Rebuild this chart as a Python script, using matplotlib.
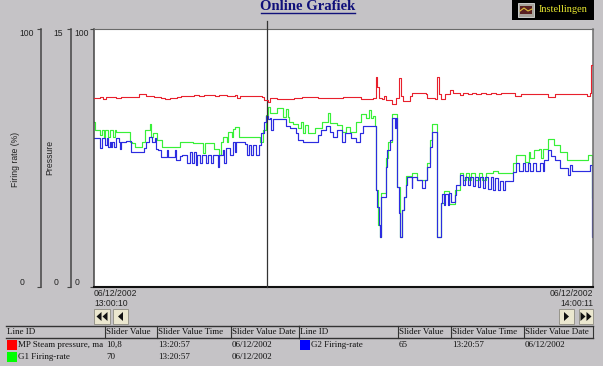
#!/usr/bin/python
# coding=utf-8
import matplotlib
matplotlib.use('Agg')
import matplotlib.pyplot as plt
from matplotlib.patches import Rectangle, Polygon

# tiempo en minutos desde 13:00:10
g2_t = [0, 0.7, 1.0, 1.3, 1.6, 1.7, 1.9, 2.0, 2.2, 2.4, 2.6, 3.0, 3.1, 3.2, 3.8, 4.4, 6.0, 6.3, 6.6, 7.0, 7.3, 7.5, 7.7, 7.9, 8.1, 8.8, 8.9, 9.7, 9.9,
        10.3, 10.6, 11.2, 11.5, 11.8, 12.0, 12.3, 12.4, 12.7, 13.0, 13.5, 13.7, 14.1, 14.3, 14.9, 15.0, 15.5, 15.6, 15.9, 16.3, 16.7, 16.9, 17.1, 18.2, 18.4, 18.6, 18.9, 19.1, 19.5, 19.8,
        20.1, 20.4, 20.7, 20.9, 21.2, 21.3, 21.5, 23.1, 23.6, 24.3, 24.5, 25.1, 26.9, 27.3, 27.9, 28.4, 28.7, 29.2, 29.8, 30.2, 30.9, 31.5, 32.0, 32.3,
        33.9, 34.0, 34.3, 34.4, 34.5, 35.1, 35.3, 35.6, 35.8, 35.9, 36.2, 36.3, 36.5, 36.7, 36.8, 37.0, 37.3, 37.5, 37.7, 38.2, 38.3, 38.8, 39.4, 39.8,
        40.0, 40.4, 40.7, 41.2, 41.3, 41.7, 41.8, 42.1, 42.2, 42.6, 42.7, 43.0, 43.4, 43.6, 44.0, 44.4, 44.6, 45.0, 45.2, 45.6, 45.8, 46.2, 46.4, 46.8, 47.0, 47.4, 47.7, 48.0, 48.2, 48.6, 48.8, 49.2, 49.4,
        50.4, 50.8, 51.1, 51.6, 51.8, 52.2, 52.5, 52.8, 53.2, 53.6, 54.0, 54.1, 54.6, 55.0, 55.5, 56.0, 57.0, 57.3, 57.5, 59.6, 59.9, 60.02]
g2_v = [57.8, 53.9, 57.8, 55.0, 57.8, 54.3, 56.2, 54.3, 56.2, 54.3, 57.8, 56.2, 53.5, 56.2, 56.6, 52.3, 53.9, 56.2, 58.1, 56.2, 57.8, 53.5, 53.1, 53.1, 50.4, 53.1, 50.4, 53.1, 49.2,
        50.8, 51.2, 48.1, 52.3, 48.1, 52.3, 47.3, 51.2, 48.1, 51.2, 48.1, 51.2, 48.1, 51.2, 46.5, 51.2, 53.1, 48.1, 53.9, 51.2, 56.2, 52.3, 56.2, 55.4, 51.2, 55.0, 51.2, 55.0, 51.2, 55.0,
        59.7, 64.0, 66.3, 65.1, 65.5, 60.9, 65.1, 62.4, 61.6, 59.7, 57.0, 56.2, 58.9, 60.9, 62.4, 60.1, 58.1, 60.9, 56.2, 59.7, 57.8, 56.2, 59.7, 62.4,
        37.6, 31.0, 24.0, 19.4, 34.9, 46.5, 53.1, 57.0, 62.8, 65.5, 61.6, 65.5, 38.8, 28.7, 19.4, 29.8, 34.9, 39.5, 42.6, 38.4, 42.6, 41.5, 38.4, 41.5,
        46.5, 54.3, 60.1, 33.7, 19.4, 32.6, 36.0, 31.8, 36.0, 31.8, 36.4, 32.9, 35.7, 39.5, 43.4, 39.5, 42.6, 39.5, 42.6, 39.1, 42.6, 38.8, 42.6, 38.4, 42.6, 38.0, 42.6, 37.6, 42.2, 37.6, 41.1, 37.6, 41.1,
        44.6, 48.1, 45.0, 48.1, 45.0, 48.1, 45.0, 48.1, 45.0, 48.1, 45.0, 49.2, 53.1, 50.8, 49.2, 46.1, 43.4, 47.3, 45.0, 47.3, 19.4, 19.4]

g1_t = [0, 0.1, 0.7, 1.0, 1.2, 1.3, 1.7, 1.9, 2.3, 2.5, 2.6, 4.3, 4.6, 4.9, 5.8, 6.1, 6.7, 6.9, 7.1, 7.6, 8.2,
        10.3, 11.9, 13.1, 13.3, 14.4, 15.0, 15.3, 15.5, 16.0, 16.1, 16.6, 16.7, 16.9, 17.4,
        20.0, 20.3, 20.7, 20.9, 21.2, 22.0, 22.7, 23.1, 23.3, 23.4, 23.9, 24.5, 24.9, 25.1, 25.4, 25.7, 26.6, 27.4, 28.1, 28.4, 29.2, 29.8,
        30.3, 30.8, 31.5, 32.1, 32.7, 33.1, 33.3, 33.6, 33.8, 33.9, 34.1, 34.4, 34.5, 35.1, 35.4, 35.8, 35.9, 36.4, 36.5, 36.8, 37.0, 37.3, 37.5, 38.3, 38.8,
        40.0, 40.4, 40.7, 41.2, 41.3, 41.7, 42.1, 42.7, 43.4, 44.0, 44.4, 44.7, 45.1, 45.4, 45.8, 46.3, 46.7, 47.2, 48.0, 48.6,
        50.4, 50.8, 51.8, 52.3, 52.4, 52.9, 53.5, 53.8, 54.0, 54.6, 55.3, 56.0, 56.9, 59.4, 59.9, 60.02]
g1_v = [64.0, 60.9, 58.9, 60.9, 58.1, 60.9, 58.1, 60.9, 58.1, 60.9, 60.1, 56.2, 55.8, 54.3, 56.2, 60.9, 63.2, 58.1, 59.7, 57.0, 54.3,
        56.2, 55.8, 51.9, 55.8, 53.5, 51.2, 56.2, 58.1, 56.2, 60.1, 58.1, 61.2, 62.0, 58.1,
        56.2, 60.9, 66.7, 69.8, 67.4, 69.4, 65.9, 69.0, 65.9, 64.0, 63.2, 61.6, 64.0, 59.7, 62.8, 59.7, 61.6, 64.0, 67.4, 63.6, 62.8, 60.1,
        62.0, 60.1, 64.0, 67.1, 65.5, 68.6, 65.5, 66.3, 62.4, 37.6, 24.0, 19.4, 36.4, 50.0, 56.2, 60.9, 67.1, 65.9, 38.8, 19.4, 29.8, 34.9, 43.0, 44.2, 41.5,
        48.1, 57.0, 63.2, 33.7, 19.4, 32.6, 37.2, 32.2, 37.6, 44.2, 41.5, 44.2, 41.5, 44.2, 41.5, 44.2, 41.5, 44.2, 45.0, 44.2,
        48.1, 51.2, 48.4, 52.3, 50.0, 53.1, 53.5, 50.0, 53.5, 57.4, 55.0, 52.3, 49.2, 51.2, 34.5, 34.5]

mp_t = [0, 0.7, 1.1, 1.5, 2.6, 3.2, 4.2, 5.4, 6.2, 7.2, 8.0, 8.5, 9.2, 10.0, 10.5, 12.0, 12.6, 13.2, 14.5, 15.0, 16.0, 17.0, 17.2, 17.6, 20.0, 20.2, 20.5, 20.9, 21.2, 22.0, 24.0, 25.0,
        27.0, 30.0, 31.5, 32.1, 33.0, 33.5, 33.9, 34.0, 34.3, 34.6, 34.9, 35.1, 35.9, 36.3, 36.7, 36.9, 37.2, 38.0, 38.3, 39.9, 40.1, 41.0, 41.2, 41.5, 41.7, 42.2, 42.8, 43.2, 44.0,
        44.4, 45.0, 45.5, 46.0, 46.6, 47.2, 47.8, 48.4, 49.0, 50.0, 50.6, 51.3, 53.1, 54.6, 55.5, 59.1, 59.3, 59.6, 59.8, 60.02]
mp_v = [11.0, 11.05, 10.95, 11.05, 11.0, 11.05, 11.05, 11.2, 11.1, 11.05, 11.0, 10.95, 11.0, 11.05, 11.1, 11.15, 11.1, 11.15, 11.1, 11.15, 11.1, 11.15, 11.0, 11.1, 11.1, 11.05, 10.9, 10.76, 11.0, 10.95, 10.98, 11.05,
        11.0, 11.05, 11.05, 10.95, 10.95, 11.0, 12.2, 11.6, 11.0, 10.95, 11.1, 10.9, 10.64, 11.0, 12.15, 11.1, 10.8, 11.1, 11.3, 11.25, 11.0, 10.95, 12.2, 11.2, 10.95, 11.2, 11.45, 11.3, 11.15,
        11.3, 11.2, 11.3, 11.2, 11.3, 11.2, 11.3, 11.2, 11.3, 11.3, 11.1, 11.2, 11.25, 11.05, 11.2, 11.25, 11.1, 11.3, 12.9, 12.6]

slider_t = 20.78
t_end = 60.02
x_ticks = [0, t_end]
x_labels = ['06/12/2002\n13:00:10', '06/12/2002\n14:00:11']
col_heads = ['Line ID', 'Slider Value', 'Slider Value Time', 'Slider Value Date']
rows_left = [['MP Steam pressure, ma', '10,8', '13:20:57', '06/12/2002'],
             ['G1 Firing-rate', '70', '13:20:57', '06/12/2002']]
rows_right = [['G2 Firing-rate', '65', '13:20:57', '06/12/2002']]

BG = '#c5c3c6'
SERIF = 'Liberation Serif'
SANS = 'Liberation Sans'
plt.rcParams['font.family'] = SANS

fig = plt.figure(figsize=(6.03, 3.66), dpi=100, facecolor=BG)

# capa de fondo en pixeles para la ventana
bg = fig.add_axes([0, 0, 1, 1], zorder=0)
bg.set_xlim(0, 603)
bg.set_ylim(366, 0)
bg.axis('off')

ax = fig.add_axes([94 / 603, 79 / 366, 499 / 603, 258 / 366], zorder=2)
ax.set_xlim(0, t_end)
ax.set_ylim(0, 100)
ax.step(g1_t, g1_v, where='post', c='#38f038', lw=0.85)
ax.step(g2_t, g2_v, where='post', c='#2c2ce0', lw=0.85)

ax_p = ax.twinx()
ax_p.set_ylim(0, 15)
ax_p.step(mp_t, mp_v, where='post', c='#e8202c', lw=0.8)

ax_f = ax.twinx()
ax_f.set_ylim(0, 100)

# cursor del slider, sobresale arriba del grafico
ax.plot([slider_t, slider_t], [0, 103.2], c='#333333', lw=0.9, clip_on=False, zorder=5)


def left_axis(a, ticks, offset, pad):
    for s in a.spines.values():
        s.set_visible(False)
    a.yaxis.set_ticks_position('left')
    a.yaxis.set_label_position('left')
    a.spines['left'].set_visible(True)
    a.spines['left'].set_position(('outward', offset))
    a.spines['left'].set_color('#444444')
    a.spines['left'].set_linewidth(1.1)
    a.set_yticks(ticks)
    a.tick_params(axis='y', length=3, width=0.8, color='#444444', pad=pad, labelsize=6.2, labelcolor='#222222')
    labels = a.get_yticklabels()
    labels[0].set_va('bottom')
    labels[1].set_va('top')
    for l in labels:
        l.set_ha('left')


left_axis(ax_p, [0, 15], 16.5, 9.7)
left_axis(ax_f, [0, 100], 38, 12.6)

ax.set_yticks([0, 100])
labels = ax.get_yticklabels()
ax.tick_params(axis='y', length=3, width=0.8, color='#444444', pad=10.8, labelsize=6.2, labelcolor='#222222')
labels[0].set_va('bottom')
labels[1].set_va('top')
for l in labels:
    l.set_ha('left')

ax.set_xticks(x_ticks)
ax.set_xticklabels(x_labels, fontsize=6.2, color='#222222', linespacing=1.15)
ax.tick_params(axis='x', length=0, pad=1.5)
xl = ax.get_xticklabels()
xl[0].set_ha('left')
xl[1].set_ha('right')

ax.spines['left'].set_color('#444444')
ax.spines['left'].set_linewidth(1.1)
ax.spines['top'].set_color('#6a6a6a')
ax.spines['right'].set_color('#6a6a6a')
ax.spines['right'].set_linewidth(1.1)
ax.spines['bottom'].set_color('#111111')
ax.spines['bottom'].set_linewidth(1.5)
ax_p.patch.set_visible(False)
ax_f.patch.set_visible(False)

bg.text(15, 159, 'Firing rate (%)', rotation=90, fontsize=6.2, ha='center', va='center', color='#222222')
bg.text(50, 157, 'Pressure', rotation=90, fontsize=6.2, ha='center', va='center', color='#222222')

# titulo
bg.text(308, 6.5, 'Online Grafiek', family=SERIF, fontweight='bold', fontsize=10.6, color='#10107a', ha='center', va='center')
bg.plot([261, 355], [13, 13], c='#10107a', lw=1)

# boton Instellingen
bg.add_patch(Rectangle((512, 0), 82, 20, fc='black', ec='none'))
bg.add_patch(Rectangle((518, 3), 16, 14, fc='#a8a49c', ec='#dddddd', lw=0.6))
bg.add_patch(Rectangle((520, 6), 12, 8, fc='#5a2020', ec='none'))
bg.plot([520, 524, 528, 532], [11, 8, 11, 9], c='#e0c040', lw=0.8)
bg.text(539, 9, 'Instellingen', family=SERIF, fontsize=7.5, color='#e8e830', va='center')

# botones de navegacion
def button(x0, w, arrows, direction):
    bg.add_patch(Rectangle((x0, 309), w, 15, fc='#ebe7cf', ec='#8c8a80', lw=0.6))
    cx = x0 + w / 2.0
    for i in range(arrows):
        c = cx + (i - (arrows - 1) / 2.0) * 6
        bg.add_patch(Polygon([(c - 2.5 * direction, 316.5), (c + 2.5 * direction, 312), (c + 2.5 * direction, 321)], fc='#111111', ec='none'))


button(94, 16, 2, 1)
button(113, 15, 1, 1)
button(559, 15, 1, -1)
button(579, 14, 2, -1)

# tabla de leyenda
def table_head(xs):
    bg.plot([xs[0], xs[-1]], [326, 326], c='#333333', lw=1)
    bg.plot([xs[0], xs[-1]], [338, 338], c='#333333', lw=1)
    for x in xs[1:]:
        bg.plot([x, x], [326, 338], c='#333333', lw=0.8)
    for x, name in zip(xs, col_heads):
        bg.text(x + 1, 332.5, name, family=SERIF, fontsize=6.5, color='#111111', va='center')


def table_rows(xs, rows, colors, name_x):
    for j, row in enumerate(rows):
        y = 345 + 12 * j
        bg.add_patch(Rectangle((xs[0] + 1, y - 5), 10, 10, fc=colors[j], ec='none'))
        bg.text(name_x, y, row[0], family=SERIF, fontsize=6.5, color='#111111', va='center')
        for x, val in zip(xs[1:], row[1:]):
            bg.text(x + 1, y, val, family=SERIF, fontsize=6.5, color='#111111', va='center')


cols_l = [6, 105, 157, 231, 299]
cols_r = [299, 398, 451, 524, 593]
table_head(cols_l)
table_head(cols_r)
table_rows(cols_l, rows_left, ['#ff0000', '#00ff00'], 17.5)
table_rows(cols_r, rows_right, ['#0000ff'], 311)

fig.savefig('out.png', dpi=100, facecolor=BG)
